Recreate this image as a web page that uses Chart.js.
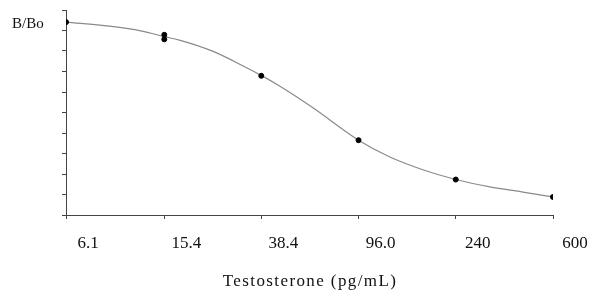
<!DOCTYPE html>
<html>
<head>
<meta charset="utf-8">
<script src="https://cdn.jsdelivr.net/npm/chart.js@4"></script>
<style>
  html, body { margin: 0; padding: 0; background: #fff; }
  #wrap { width: 590px; height: 290px; }
</style>
</head>
<body>
<div id="wrap"><canvas id="myChart"></canvas></div>
<script>
// standards (measured points)
const conc = [6.1, 15.4, 15.4, 38.4, 96, 240, 600];
const bbo = [0.941, 0.879, 0.857, 0.679, 0.365, 0.173, 0.088];

// fitted curve
const curveConc = [6.1, 9.2, 12.6, 15.4, 17.9, 24.4, 33.6, 38.4, 45.8, 62.5, 96, 129, 176, 240, 331, 452, 600];
const curveBbo = [0.941, 0.921, 0.896, 0.870, 0.852, 0.798, 0.717, 0.681, 0.628, 0.523, 0.365, 0.283, 0.221, 0.173, 0.137, 0.112, 0.088];

const tickValues = [6.1, 15.4, 38.4, 96, 240, 600];
const tickLabels = ["6.1", "15.4", "38.4", "96.0", "240", "600"];

const serif = "'Liberation Serif', 'Times New Roman', serif";
const axisColor = "#444";

// axis captions drawn as text on the canvas
const captions = {
  id: "captions",
  afterDraw(chart) {
    const ctx = chart.ctx;
    ctx.save();
    ctx.fillStyle = "#111";
    ctx.textBaseline = "alphabetic";
    ctx.font = "15px " + serif;
    ctx.textAlign = "left";
    ctx.fillText("B/Bo", 12, 28);
    ctx.font = "17px " + serif;
    ctx.letterSpacing = "1.4px";
    ctx.textAlign = "center";
    ctx.fillText("Testosterone (pg/mL)", 310, 286);
    ctx.restore();
  }
};

const ctx = document.getElementById("myChart").getContext("2d");

const myChart = new Chart(ctx, {
  type: "scatter",
  data: {
    datasets: [
      {
        data: conc.map((c, i) => ({ x: c, y: bbo[i] })),
        backgroundColor: "#000",
        borderColor: "#000",
        pointRadius: 2.5,
        showLine: false,
        order: 0,
      },
      {
        data: curveConc.map((c, i) => ({ x: c, y: curveBbo[i] })),
        showLine: true,
        borderColor: "#8a8a8a",
        borderWidth: 1.2,
        pointRadius: 0,
        cubicInterpolationMode: "monotone",
        order: 1,
      },
    ],
  },
  options: {
    responsive: true,
    maintainAspectRatio: false,
    animation: false,
    layout: { padding: { top: 10, right: 37, left: 0, bottom: 0 } },
    plugins: {
      legend: { display: false },
      tooltip: { enabled: false },
    },
    scales: {
      x: {
        type: "logarithmic",
        min: 6.1,
        max: 600,
        afterBuildTicks: (scale) => {
          scale.ticks = tickValues.map((v) => ({ value: v }));
        },
        afterFit: (scale) => { scale.height = 75; },
        ticks: {
          autoSkip: false,
          maxRotation: 0,
          labelOffset: 22,
          padding: 14,
          color: "#111",
          font: { family: serif, size: 17 },
          callback: (value, index) => tickLabels[index],
        },
        grid: {
          drawOnChartArea: false,
          drawTicks: true,
          tickLength: 4,
          color: axisColor,
        },
        border: { color: axisColor, width: 1 },
      },
      y: {
        min: 0,
        max: 1,
        afterFit: (scale) => { scale.width = 66; },
        ticks: { display: false, stepSize: 0.1 },
        grid: {
          drawOnChartArea: false,
          drawTicks: true,
          tickLength: 4,
          color: axisColor,
        },
        border: { color: axisColor, width: 1 },
      },
    },
  },
  plugins: [captions],
});
</script>
</body>
</html>
